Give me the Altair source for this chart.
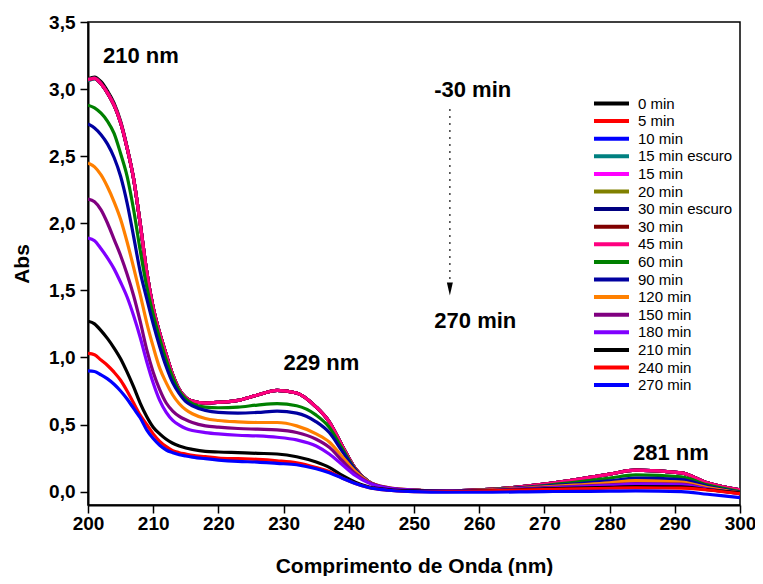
import altair as alt
import pandas as pd

FONT = "Liberation Sans"

wavelength = [200, 201, 202, 203, 204, 205, 206, 207, 208, 209, 210, 211, 212, 213, 214, 215, 216,
              218, 220, 223, 226, 229, 232, 235, 237, 239, 241, 243, 246,
              250, 255, 260, 270, 280, 284, 291, 295, 300]

labels = ["0 min", "5 min", "10 min", "15 min escuro", "15 min", "20 min", "30 min escuro",
          "30 min", "45 min", "60 min", "90 min", "120 min", "150 min", "180 min",
          "210 min", "240 min", "270 min"]
colors = ["#000000", "#FF0000", "#0000FF", "#008080", "#FF00FF", "#808000", "#000080",
          "#800000", "#FF0080", "#008000", "#0000A0", "#FF8000", "#800080", "#8000FF",
          "#000000", "#FF0000", "#0000FF"]

s0 = [3.075, 3.09, 3.055, 2.985, 2.895, 2.76, 2.565, 2.33, 2.00, 1.64, 1.37, 1.18, 1.02, 0.87, 0.76, 0.70, 0.675,
      0.66, 0.665, 0.68, 0.72, 0.755, 0.735, 0.63, 0.52, 0.34, 0.17, 0.075, 0.025,
      0.01, 0.005, 0.012, 0.055, 0.13, 0.16, 0.14, 0.065, 0.012]
s5 = [3.07, 3.08, 3.04, 2.97, 2.88, 2.75, 2.56, 2.33, 2.00, 1.64, 1.37, 1.18, 1.02, 0.87, 0.76, 0.70, 0.675,
      0.66, 0.665, 0.68, 0.72, 0.755, 0.735, 0.63, 0.52, 0.34, 0.17, 0.075, 0.025,
      0.01, 0.005, 0.012, 0.055, 0.13, 0.16, 0.14, 0.065, 0.012]
s10 = [3.07, 3.08, 3.04, 2.97, 2.88, 2.75, 2.56, 2.33, 2.00, 1.64, 1.37, 1.18, 1.02, 0.87, 0.76, 0.70, 0.675,
       0.66, 0.665, 0.68, 0.72, 0.755, 0.735, 0.63, 0.52, 0.34, 0.17, 0.075, 0.025,
       0.01, 0.005, 0.012, 0.055, 0.13, 0.16, 0.14, 0.065, 0.012]
s15e = [3.06, 3.075, 3.04, 2.97, 2.88, 2.75, 2.56, 2.33, 2.00, 1.64, 1.37, 1.18, 1.02, 0.87, 0.76, 0.70, 0.675,
        0.66, 0.665, 0.68, 0.72, 0.755, 0.735, 0.63, 0.52, 0.34, 0.17, 0.075, 0.025,
        0.01, 0.005, 0.012, 0.055, 0.13, 0.16, 0.14, 0.065, 0.012]
s15 = [3.07, 3.08, 3.04, 2.97, 2.88, 2.75, 2.56, 2.33, 2.00, 1.64, 1.37, 1.18, 1.02, 0.87, 0.76, 0.70, 0.675,
       0.66, 0.665, 0.68, 0.72, 0.755, 0.735, 0.63, 0.52, 0.34, 0.17, 0.075, 0.025,
       0.01, 0.005, 0.012, 0.055, 0.13, 0.16, 0.14, 0.065, 0.012]
s20 = [3.07, 3.08, 3.04, 2.97, 2.88, 2.75, 2.56, 2.33, 2.00, 1.64, 1.37, 1.18, 1.02, 0.87, 0.76, 0.70, 0.675,
       0.66, 0.665, 0.68, 0.72, 0.755, 0.735, 0.63, 0.52, 0.34, 0.17, 0.075, 0.025,
       0.01, 0.005, 0.012, 0.055, 0.13, 0.16, 0.14, 0.065, 0.012]
s30e = [3.07, 3.08, 3.04, 2.97, 2.88, 2.75, 2.56, 2.33, 2.00, 1.64, 1.37, 1.18, 1.02, 0.87, 0.76, 0.70, 0.675,
        0.66, 0.665, 0.68, 0.72, 0.755, 0.735, 0.63, 0.52, 0.34, 0.17, 0.075, 0.025,
        0.01, 0.005, 0.012, 0.055, 0.13, 0.16, 0.14, 0.065, 0.012]
s30 = [3.07, 3.08, 3.04, 2.97, 2.88, 2.75, 2.56, 2.33, 2.00, 1.64, 1.37, 1.18, 1.02, 0.87, 0.76, 0.70, 0.675,
       0.66, 0.665, 0.68, 0.72, 0.755, 0.735, 0.63, 0.52, 0.34, 0.17, 0.075, 0.025,
       0.01, 0.005, 0.012, 0.055, 0.13, 0.16, 0.14, 0.065, 0.012]
s45 = [3.07, 3.08, 3.04, 2.97, 2.88, 2.75, 2.56, 2.33, 2.00, 1.64, 1.37, 1.18, 1.02, 0.87, 0.76, 0.70, 0.675,
       0.66, 0.665, 0.68, 0.72, 0.755, 0.735, 0.63, 0.52, 0.34, 0.17, 0.075, 0.025,
       0.01, 0.005, 0.012, 0.055, 0.13, 0.16, 0.14, 0.065, 0.012]
s60 = [2.88, 2.86, 2.82, 2.76, 2.67, 2.52, 2.35, 2.10, 1.80, 1.53, 1.32, 1.14, 0.98, 0.85, 0.75, 0.69, 0.655,
       0.63, 0.625, 0.63, 0.645, 0.655, 0.64, 0.57, 0.48, 0.32, 0.165, 0.075, 0.025,
       0.01, 0.005, 0.01, 0.045, 0.10, 0.125, 0.11, 0.05, 0.0]
s90 = [2.74, 2.71, 2.66, 2.59, 2.49, 2.35, 2.15, 1.90, 1.64, 1.44, 1.25, 1.08, 0.93, 0.81, 0.73, 0.67, 0.64,
       0.605, 0.59, 0.585, 0.59, 0.60, 0.585, 0.52, 0.44, 0.30, 0.16, 0.075, 0.025,
       0.01, 0.005, 0.01, 0.04, 0.08, 0.10, 0.09, 0.04, -0.005]
s120 = [2.45, 2.42, 2.36, 2.27, 2.16, 2.03, 1.86, 1.67, 1.47, 1.26, 1.08, 0.92, 0.81, 0.72, 0.655, 0.61, 0.58,
        0.545, 0.53, 0.52, 0.515, 0.515, 0.49, 0.43, 0.37, 0.26, 0.15, 0.075, 0.03,
        0.012, 0.005, 0.01, 0.035, 0.065, 0.082, 0.07, 0.03, -0.01]
s150 = [2.18, 2.16, 2.10, 2.00, 1.88, 1.76, 1.62, 1.46, 1.27, 1.06, 0.89, 0.76, 0.66, 0.60, 0.56, 0.535, 0.515,
        0.49, 0.48, 0.47, 0.465, 0.46, 0.44, 0.39, 0.33, 0.23, 0.135, 0.07, 0.03,
        0.012, 0.005, 0.008, 0.03, 0.05, 0.06, 0.055, 0.02, -0.015]
s180 = [1.89, 1.87, 1.81, 1.74, 1.66, 1.56, 1.45, 1.31, 1.15, 0.97, 0.81, 0.68, 0.59, 0.53, 0.495, 0.47, 0.455,
        0.44, 0.43, 0.42, 0.415, 0.405, 0.385, 0.34, 0.28, 0.20, 0.12, 0.065, 0.025,
        0.01, 0.004, 0.006, 0.025, 0.045, 0.055, 0.05, 0.018, -0.015]
s210 = [1.27, 1.25, 1.20, 1.14, 1.07, 0.99, 0.89, 0.78, 0.66, 0.56, 0.48, 0.43, 0.39, 0.36, 0.34, 0.325, 0.315,
        0.30, 0.295, 0.29, 0.285, 0.28, 0.26, 0.22, 0.18, 0.12, 0.07, 0.035, 0.015,
        0.005, 0.002, 0.005, 0.02, 0.032, 0.037, 0.035, 0.015, -0.01]
s240 = [1.03, 1.02, 0.98, 0.94, 0.89, 0.83, 0.75, 0.66, 0.57, 0.50, 0.43, 0.375, 0.335, 0.305, 0.29, 0.28, 0.27,
        0.26, 0.25, 0.245, 0.24, 0.23, 0.215, 0.18, 0.15, 0.10, 0.06, 0.03, 0.01,
        0.0, 0.0, 0.004, 0.015, 0.025, 0.027, 0.026, 0.012, -0.015]
s270 = [0.90, 0.895, 0.87, 0.84, 0.80, 0.75, 0.69, 0.62, 0.55, 0.46, 0.395, 0.345, 0.31, 0.29, 0.275, 0.265, 0.257,
        0.245, 0.235, 0.225, 0.22, 0.21, 0.20, 0.17, 0.14, 0.10, 0.06, 0.03, 0.01,
        0.0, -0.005, -0.005, 0.0, 0.003, 0.005, 0.0, -0.02, -0.045]

series_values = [s0, s5, s10, s15e, s15, s20, s30e, s30, s45, s60, s90, s120, s150, s180, s210, s240, s270]

# annotations (in data units)
ann_text = ["210 nm", "229 nm", "281 nm", "-30 min", "270 min"]
ann_wl = [208.1, 235.8, 289.4, 259.0, 259.4]
ann_abs = [3.25, 0.96, 0.29, 2.99, 1.27]
arrow_wl = [255.5]
arrow_top = [2.85]
arrow_bottom = [1.56]
arrow_head = [1.51]

rows = []
for lab, vals in zip(labels, series_values):
    for w, v in zip(wavelength, vals):
        rows.append({"wl": w, "abs": v, "serie": lab})
df = pd.DataFrame(rows)

ann_df = pd.DataFrame({"wl": ann_wl, "abs": ann_abs, "txt": ann_text})
arrow_df = pd.DataFrame({"wl": arrow_wl, "abs": arrow_top, "abs2": arrow_bottom})
head_df = pd.DataFrame({"wl": arrow_wl, "abs": arrow_head})

x_ticks = list(range(200, 301, 5))
y_ticks = [i * 0.25 for i in range(0, 15)]

x_axis = alt.Axis(
    title="Comprimento de Onda (nm)",
    values=x_ticks,
    labelExpr="datum.value % 10 == 0 ? format(datum.value, 'd') : ''",
    tickSize={"condition": {"test": "datum.value % 10 == 0", "value": 8}, "value": 5},
    labelFlush=False,
    labelPadding=1,
    titlePadding=22,
    grid=False,
)
y_axis = alt.Axis(
    title="Abs",
    values=y_ticks,
    labelExpr="(datum.value * 2) % 1 == 0 ? replace(format(datum.value, '.1f'), '.', ',') : ''",
    tickSize={"condition": {"test": "(datum.value * 2) % 1 == 0", "value": 8}, "value": 5},
    labelFlush=False,
    labelPadding=5,
    titlePadding=16,
    grid=False,
)

lines = alt.Chart(df).mark_line(strokeWidth=3.2, interpolate="monotone", clip=True).encode(
    x=alt.X("wl:Q", scale=alt.Scale(domain=[200, 300], nice=False, zero=False), axis=x_axis),
    y=alt.Y("abs:Q", scale=alt.Scale(domain=[-0.1, 3.5], nice=False, zero=False), axis=y_axis),
    color=alt.Color(
        "serie:N",
        sort=labels,
        scale=alt.Scale(domain=labels, range=colors),
        legend=alt.Legend(
            title=None,
            orient="none",
            legendX=516,
            legendY=74,
            padding=0,
            symbolType="M-3.89,0L3.89,0",
            symbolSize=81,
            symbolStrokeWidth=4,
            symbolOffset=0,
            labelOffset=19,
            labelFont=FONT,
            labelFontSize=15,
            labelColor="black",
            rowPadding=0.6,
        ),
    ),
)

texts = alt.Chart(ann_df).mark_text(
    font=FONT, fontSize=22, fontWeight="bold", color="black", align="center", baseline="middle"
).encode(x="wl:Q", y="abs:Q", text="txt:N")

rule = alt.Chart(arrow_df).mark_rule(color="black", strokeWidth=1.5, strokeDash=[1.5, 5.5]).encode(
    x="wl:Q", y="abs:Q", y2="abs2:Q"
)

head = alt.Chart(head_df).mark_point(
    shape="M-0.46,-1L0.46,-1L0,1Z", filled=True, size=169, color="black", opacity=1
).encode(x="wl:Q", y="abs:Q")

chart = alt.layer(lines, texts, rule, head).properties(
    width=652,
    height=483,
    autosize=alt.AutoSizeParams(type="none"),
    padding={"left": 80, "top": 14, "right": 15, "bottom": 71},
).configure_view(
    stroke="black", strokeWidth=1.5
).configure_axis(
    labelFont=FONT,
    labelFontSize=19,
    labelFontWeight="bold",
    labelColor="black",
    titleFont=FONT,
    titleFontSize=21,
    titleFontWeight="bold",
    titleColor="black",
    domainColor="black",
    domainWidth=2,
    tickColor="black",
    tickWidth=1.5,
)

chart.save("out.html", embed_options={"renderer": "svg", "actions": False})
